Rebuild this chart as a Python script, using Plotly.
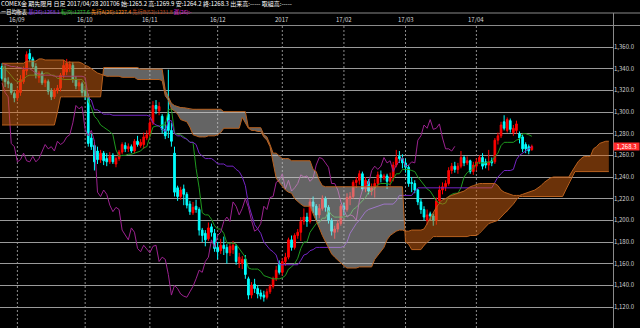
import plotly.graph_objects as go

# ---------------- data ----------------
opens = [1342,1331,1328,1326,1317,1313,1318,1328,1338,1354,
         1349,1342,1332,1336,1327,1328,1319,1314,1320,1322,
         1334,1337,1340,1343,1330,1324,1326,1319,1314,1276,
         1269,1264,1256,1262,1257,1254,1260,1252,1257,1263,
         1269,1266,1268,1264,1273,1269,1270,1276,1279,1290,
         1306,1301,1296,1284,1298,1283,1262,1230,1222,1229,
         1224,1215,1207,1213,1210,1191,1188,1183,1194,1188,
         1175,1172,1177,1175,1170,1173,1176,1161,1160,1164,
         1146,1131,1141,1137,1133,1131,1129,1134,1139,1146,
         1160,1152,1162,1166,1182,1175,1186,1189,1199,1203,
         1199,1217,1213,1205,1211,1220,1212,1200,1189,1192,
         1197,1213,1210,1220,1222,1235,1237,1243,1229,1236,
         1227,1230,1234,1242,1239,1241,1236,1239,1251,1259,
         1257,1253,1249,1235,1234,1228,1217,1210,1200,1206,
         1204,1200,1218,1228,1231,1234,1246,1250,1247,1250,
         1258,1253,1255,1245,1250,1254,1258,1254,1251,1255,
         1254,1274,1278,1291,1283,1292,1281,1283,1280,1277,
         1270,1268,1265.2]
highs = [1345,1343,1332,1327,1319,1322,1334,1342,1356,1358,
         1351,1345,1338,1338,1331,1330,1322,1322,1325,1336,
         1348,1349,1347,1346,1333,1330,1328,1322,1317,1280,
         1271,1268,1265,1264,1262,1263,1262,1259,1265,1272,
         1272,1271,1270,1275,1278,1275,1281,1283,1293,1310,
         1311,1309,1298,1291,1339,1290,1268,1232,1231,1233,
         1226,1218,1217,1219,1212,1193,1191,1198,1197,1192,
         1180,1183,1185,1178,1179,1181,1178,1170,1167,1168,
         1148,1143,1146,1140,1136,1135,1137,1141,1148,1158,
         1163,1165,1170,1184,1186,1188,1192,1203,1211,1207,
         1220,1222,1215,1215,1223,1222,1214,1202,1195,1200,
         1215,1216,1225,1226,1237,1240,1246,1245,1240,1238,
         1234,1238,1245,1246,1243,1243,1244,1254,1265,1264,
         1261,1257,1251,1240,1237,1229,1220,1213,1210,1208,
         1206,1221,1232,1235,1237,1249,1253,1254,1253,1264,
         1260,1259,1256,1254,1257,1260,1262,1257,1265,1258,
         1276,1281,1291,1297,1295,1294,1288,1292,1282,1279,
         1272,1270,1269.9]
lows = [1329,1323,1322,1316,1309,1310,1315,1326,1334,1346,
        1340,1331,1327,1325,1323,1316,1311,1312,1317,1319,
        1331,1334,1337,1327,1321,1320,1314,1311,1268,1265,
        1246,1252,1253,1251,1250,1252,1252,1249,1255,1261,
        1263,1263,1262,1262,1268,1267,1266,1274,1277,1288,
        1298,1297,1280,1275,1276,1268,1222,1218,1219,1214,
        1211,1205,1205,1207,1186,1180,1176,1181,1185,1171,
        1164,1169,1168,1160,1167,1169,1159,1156,1155,1146,
        1127,1128,1133,1128,1127,1125,1127,1132,1137,1144,
        1150,1149,1158,1164,1172,1173,1183,1181,1196,1194,
        1197,1207,1200,1202,1209,1208,1197,1186,1183,1189,
        1195,1205,1208,1214,1220,1230,1233,1227,1226,1224,
        1223,1221,1231,1235,1237,1229,1232,1236,1249,1253,
        1248,1244,1231,1226,1225,1214,1206,1200,1196,1200,
        1195,1196,1215,1224,1227,1232,1243,1244,1243,1248,
        1250,1251,1243,1242,1246,1252,1247,1248,1246,1250,
        1252,1270,1276,1283,1281,1281,1278,1280,1271,1263,
        1262,1261,1264.2]
closes = [1331,1328,1326,1318,1313,1320,1330,1339,1353,1349,
          1342,1334,1336,1327,1329,1319,1314,1320,1322,1334,
          1343,1345,1344,1330,1324,1327,1318,1314,1271,1268,
          1254,1256,1262,1255,1254,1259,1254,1257,1263,1270,
          1266,1268,1264,1273,1270,1272,1277,1279,1290,1306,
          1303,1305,1284,1278,1283,1273,1226,1222,1228,1224,
          1214,1208,1212,1210,1191,1186,1182,1193,1189,1174,
          1171,1177,1174,1170,1176,1177,1162,1166,1164,1150,
          1131,1140,1137,1132,1130,1129,1134,1139,1146,1154,
          1152,1162,1166,1182,1175,1186,1189,1199,1203,1199,
          1217,1213,1205,1211,1220,1212,1200,1190,1192,1197,
          1213,1210,1221,1222,1235,1237,1243,1229,1237,1227,
          1230,1234,1242,1240,1241,1236,1239,1251,1258,1257,
          1253,1249,1234,1234,1228,1217,1210,1203,1205,1204,
          1200,1218,1228,1231,1234,1246,1250,1247,1250,1258,
          1253,1255,1245,1251,1254,1258,1250,1251,1254,1253,
          1274,1278,1288,1285,1293,1284,1285,1289,1276,1266,
          1266,1264,1268.3]
tenkan = [1341,1340,1337,1333,1330,1328,1328,1330,1333,1334,
          1334,1334,1334,1334,1336,1336,1334,1334,1331,1331,
          1330,1330,1330,1330,1330,1330,1330,1326,1310,1304,
          1296,1293,1288,1286,1284,1282,1279,1265,1259,1260,
          1260,1261,1261,1262,1263,1264,1267,1268,1277,1286,
          1287,1287,1288,1288,1302,1303,1281,1279,1279,1277,
          1275,1272,1272,1248,1230,1207,1205,1205,1201,1195,
          1192,1192,1188,1179,1179,1179,1178,1174,1170,1166,
          1156,1155,1155,1155,1153,1149,1148,1147,1146,1146,
          1146,1147,1149,1155,1157,1160,1165,1174,1180,1180,
          1189,1193,1197,1198,1202,1202,1209,1205,1203,1203,
          1203,1203,1204,1205,1210,1212,1215,1218,1221,1226,
          1227,1230,1233,1234,1234,1234,1233,1238,1243,1243,
          1247,1247,1247,1246,1245,1240,1236,1232,1229,1227,
          1223,1218,1216,1215,1216,1222,1224,1225,1225,1230,
          1240,1244,1246,1248,1253,1253,1253,1253,1254,1254,
          1259,1262,1269,1272,1272,1272,1272,1274,1275,1280,
          1280,1279,1277.6]
kijun = [1345,1344,1343,1342,1342,1341,1341,1340,1340,1340,
         1338,1336,1335,1334,1334,1334,1334,1333,1333,1333,
         1333,1333,1333,1333,1333,1333,1333,1332,1313,1311,
         1302,1302,1300,1298,1298,1298,1297,1297,1297,1297,
         1297,1297,1297,1297,1297,1297,1297,1297,1296,1290,
         1288,1287,1284,1282,1292,1292,1280,1278,1278,1276,
         1275,1272,1272,1270,1262,1259,1257,1257,1257,1255,
         1252,1252,1252,1250,1250,1250,1247,1245,1240,1232,
         1215,1205,1196,1192,1188,1180,1176,1173,1171,1168,
         1159,1159,1159,1159,1159,1159,1159,1163,1168,1169,
         1172,1173,1175,1175,1175,1175,1175,1175,1175,1175,
         1175,1176,1180,1188,1193,1197,1200,1204,1208,1210,
         1211,1212,1213,1214,1215,1215,1215,1215,1218,1223,
         1223,1223,1223,1223,1227,1230,1230,1230,1230,1230,
         1230,1230,1230,1230,1230,1230,1230,1230,1230,1230,
         1230,1230,1230,1230,1230,1230,1230,1230,1230,1230,
         1235,1240,1243,1246,1246,1246,1247,1256,1260,1262,
         1264.5,1266,1268.1]
senkou_a = [1345,1345,1345,1345,1345,1345,1345,1345,1347,1347,
            1347,1347,1349,1349,1348,1348,1348,1348,1348,1348,
            1348,1346,1346,1346,1346,1346,1345,1343,1342,1340,
            1338,1336,1335,1334,1333,1333,1333,1333,1333,1332,
            1332,1332,1332,1332,1330,1330,1330,1330,1330,1330,
            1330,1330,1329,1315,1311,1303,1301,1298,1293,1292,
            1291,1286,1279,1278,1277,1277,1277,1278,1278,1278,
            1279,1281,1285,1285,1285,1285,1285,1285,1295,1290,
            1285,1283,1283,1282,1282,1277,1274,1268,1255,1239,
            1235,1231,1228,1226,1225,1220,1217,1215,1213,1213,
            1213,1206,1200,1193,1186,1180,1175,1169,1166,1163,
            1160,1158,1156,1156,1156,1156,1157,1157,1157,1157,
            1157,1164,1168,1171,1175,1182,1186,1188,1190,1191,
            1191,1190,1190,1191,1191,1191,1191,1192,1197,1203,
            1208,1212,1216,1219,1220,1222,1223,1224,1225,1226,
            1227,1229,1231,1232,1233,1234,1234,1234,1234,1234,
            1234,1232,1228,1226,1225,1224,1223,1223,1223,1224,
            1225,1226,1227.4,1228,1230,1232,1235,1237,1239,1240,
            1240,1240,1240,1240,1240,1245,1250,1254,1257,1259,
            1259,1259,1266,1268,1271,1272,1273,1273]
senkou_b = [1288,1288,1288,1288,1288,1288,1288,1288,1288,1288,
            1288,1288,1288,1288,1288,1288,1288,1288,1300,1314,
            1314,1314,1314,1314,1314,1314,1314,1314,1314,1314,
            1314,1314,1314,1341,1341,1341,1341,1341,1341,1341,
            1341,1341,1341,1341,1341,1339.5,1339.5,1339.5,1339.5,1339.5,
            1339.5,1339.5,1339.5,1320,1314,1308,1306,1305,1304,1304,
            1303.5,1302.5,1302.5,1302.5,1302.5,1302.5,1302.5,1302.5,1302.5,1302.5,
            1302.5,1302.5,1300.3,1300.3,1300.3,1300.3,1300.3,1300.3,1300.3,1300.3,
            1285.5,1285.5,1285.5,1285.5,1285.5,1279,1277,1270,1262,1262,
            1259,1257,1257,1257,1255,1255,1255,1255,1255,1255,
            1255,1247,1245,1237,1232,1231,1231,1231,1231,1231,
            1231,1231,1231,1231,1231,1231,1231,1231,1231,1231,
            1231,1231,1231,1231,1231,1231,1231,1231,1231,1231,
            1231,1180,1178,1173,1173,1173,1173,1177,1180,1183,
            1185,1185,1185,1185,1185,1185,1185,1185,1185,1185,
            1185,1185,1186,1186,1186,1188,1191,1194,1197,1198,
            1199,1200,1203,1206,1208,1211,1215,1219,1222,1222,
            1222,1222,1222,1222,1222,1222,1222,1222,1222,1222,
            1222,1222,1222,1228,1234,1240,1245,1245,1245,1245,
            1245,1245,1245,1245,1245,1245,1245,1245]
month_labels = ["16/09", "16/10", "16/11", "16/12", "2017", "17/02", "17/03", "17/04"]
month_start = [5, 27, 48, 70, 91, 111, 131, 154]
lag = 25
header_1 = "COMEX金 期先限月 日足 2017/04/28 201706 始:1265.2 高:1269.9 安:1264.2 終:1268.3 出来高:----- 取組高:-----"
header_2 = [("一目均衡表", "#ffffff"),
            ("基(26):1268.1", "#9a3cf0"),
            ("転(9):1277.6", "#2ccc2c"),
            ("先行A(26):1227.4", "#ff8a10"),
            ("先行B(52):1231.8", "#c04818"),
            ("遅(26):-", "#e824d8")]

# ---------------- geometry ----------------
W, H = 640, 328
ML, MR, MT, MB = 0, 27, 26, 0
PW, PH = W - ML - MR, H - MT - MB
FONT = "Noto Sans CJK JP, Noto Sans, sans-serif"


def py(ypix):
    return (H - MB - ypix) / PH


def px(xpix):
    return (xpix - ML) / PW


idx = list(range(len(closes)))
fig = go.Figure()

fig.add_trace(go.Candlestick(
    x=idx, open=opens, high=highs, low=lows, close=closes,
    increasing=dict(line=dict(color="#ff0000", width=1), fillcolor="#ff0000"),
    decreasing=dict(line=dict(color="#00ffff", width=1), fillcolor="#00ffff"),
    whiskerwidth=0, hoverinfo="skip", showlegend=False))

fig.add_trace(go.Scatter(x=idx, y=tenkan, mode="lines",
                         line=dict(color="#1f9a1f", width=1), showlegend=False, hoverinfo="skip"))
fig.add_trace(go.Scatter(x=idx, y=kijun, mode="lines",
                         line=dict(color="#7424c4", width=1), showlegend=False, hoverinfo="skip"))
fig.add_trace(go.Scatter(x=[i - lag for i in idx[lag:]], y=closes[lag:], mode="lines",
                         line=dict(color="#9c2290", width=1), showlegend=False, hoverinfo="skip"))

# cloud, split where senkou A and B cross
n = len(senkou_a)
d = [a - b for a, b in zip(senkou_a, senkou_b)]
runs = []
start = 0
for k in range(1, n):
    if (d[k] >= 0) != (d[k - 1] >= 0):
        runs.append((start, k - 1))
        start = k
runs.append((start, n - 1))
for s, e in runs:
    xs = list(range(s, e + 1))
    ta = senkou_a[s:e + 1]
    tb = senkou_b[s:e + 1]
    if s > 0:
        t = d[s - 1] / (d[s - 1] - d[s])
        yc = senkou_a[s - 1] + t * (senkou_a[s] - senkou_a[s - 1])
        xs = [s - 1 + t] + xs
        ta = [yc] + ta
        tb = [yc] + tb
    if e < n - 1:
        t = d[e] / (d[e] - d[e + 1])
        yc = senkou_a[e] + t * (senkou_a[e + 1] - senkou_a[e])
        xs = xs + [e + t]
        ta = ta + [yc]
        tb = tb + [yc]
    col = "rgba(214,100,18,0.5)" if d[s] >= 0 else "rgba(200,200,200,0.5)"
    fig.add_trace(go.Scatter(x=xs + xs[::-1], y=ta + tb[::-1], fill="toself",
                             fillcolor=col, mode="lines", line=dict(width=0),
                             showlegend=False, hoverinfo="skip"))

cx = list(range(n))
for arr in (senkou_a, senkou_b):
    fig.add_trace(go.Scatter(x=cx, y=arr, mode="lines",
                             line=dict(color="#b8601e", width=1),
                             showlegend=False, hoverinfo="skip"))

shapes = []
for m in month_start:
    shapes.append(dict(type="line", xref="x", yref="paper", x0=m, x1=m, y0=0, y1=1,
                       line=dict(color="#8c8c8c", width=1, dash="2px,2px"), layer="below"))
# header band and right panel separators
for yy in (13, 25.5):
    shapes.append(dict(type="line", xref="paper", yref="paper", x0=0, x1=px(W), y0=py(yy), y1=py(yy),
                       line=dict(color="#8a8a8a", width=1)))
shapes.append(dict(type="line", xref="paper", yref="paper", x0=px(613.5), x1=px(613.5), y0=0, y1=py(13),
                   line=dict(color="#8a8a8a", width=1)))

ann = []
for lab, m in zip(month_labels, month_start):
    ann.append(dict(x=m, y=py(19.5), xref="x", yref="paper", text=lab, showarrow=False,
                    xanchor="center", yanchor="middle", borderpad=0,
                    font=dict(size=6, color="#d8d8d8", family=FONT)))
ann.append(dict(x=px(0), y=py(3.8), xref="paper", yref="paper", text=header_1, showarrow=False,
                xanchor="left", yanchor="middle", borderpad=0,
                font=dict(size=6, color="#ffffff", family=FONT)))
line2 = " ".join(f"<span style='color:{c}'>{t}</span>" for t, c in header_2)
ann.append(dict(x=px(0), y=py(11.6), xref="paper", yref="paper", text=line2, showarrow=False,
                xanchor="left", yanchor="middle", borderpad=0,
                font=dict(size=5.2, color="#ffffff", family=FONT)))
ann.append(dict(x=px(613), y=closes[-1], xref="paper", yref="y", text=f"{closes[-1]:,.1f}",
                showarrow=False, xanchor="left", yanchor="middle", bgcolor="#ff2a2a",
                width=25, height=7, borderpad=0, align="center",
                font=dict(size=6, color="#ffffff", family=FONT)))

fig.update_layout(
    width=W, height=H, margin=dict(l=ML, r=MR, t=MT, b=MB),
    paper_bgcolor="#000000", plot_bgcolor="#000000",
    shapes=shapes, annotations=ann, showlegend=False, boxgap=0.22,
    xaxis=dict(range=[-0.65, 198.35], showgrid=False, zeroline=False, showticklabels=False,
               ticks="", rangeslider=dict(visible=False), fixedrange=True),
    yaxis=dict(range=[1100.62, 1379.38], side="right", tick0=1120, dtick=20,
               tickformat=",.1f", showgrid=True, gridcolor="#9a9a9a", gridwidth=1,
               zeroline=False, ticks="", tickfont=dict(size=6, color="#d0d0d0", family=FONT),
               fixedrange=True),
)

fig.write_html("out.html")
